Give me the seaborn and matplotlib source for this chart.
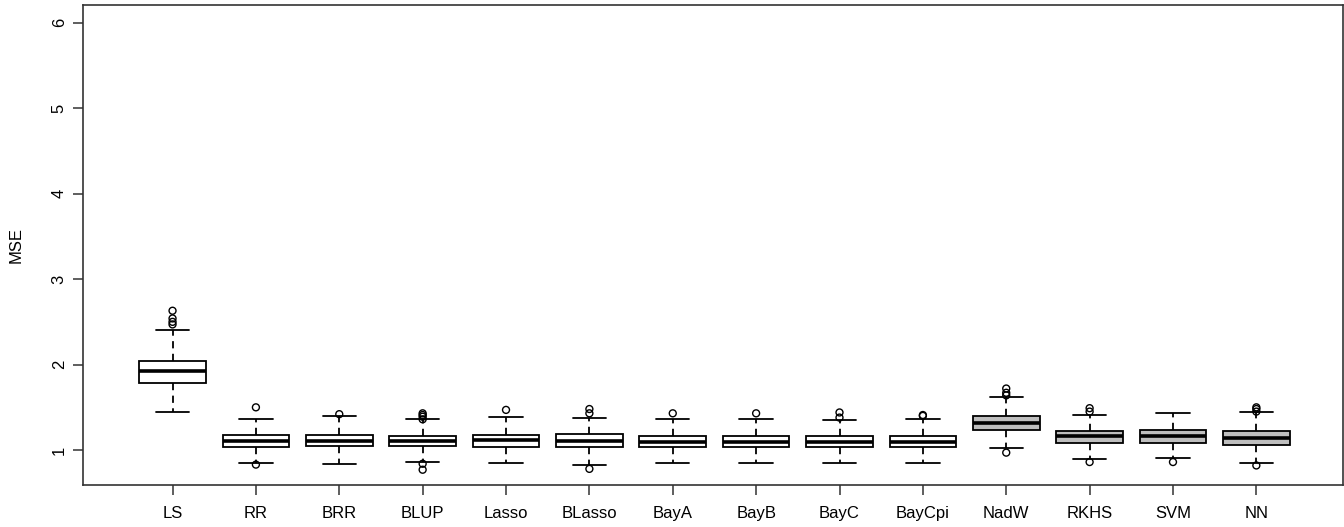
import numpy as np
import pandas as pd
import matplotlib
matplotlib.use("Agg")
import matplotlib.pyplot as plt
import seaborn as sns

# values
methods = ['LS', 'RR', 'BRR', 'BLUP', 'Lasso', 'BLasso', 'BayA', 'BayB',
           'BayC', 'BayCpi', 'NadW', 'RKHS', 'SVM', 'NN']
whisker_lo = [1.45, 0.85, 0.84, 0.86, 0.85, 0.83, 0.85, 0.85, 0.85, 0.85, 1.03, 0.90, 0.91, 0.85]
q1 = [1.78, 1.04, 1.05, 1.05, 1.04, 1.04, 1.04, 1.04, 1.04, 1.04, 1.24, 1.08, 1.08, 1.06]
median = [1.92, 1.11, 1.11, 1.11, 1.12, 1.11, 1.10, 1.10, 1.10, 1.10, 1.32, 1.16, 1.16, 1.14]
q3 = [2.04, 1.18, 1.18, 1.17, 1.18, 1.19, 1.17, 1.17, 1.17, 1.17, 1.40, 1.22, 1.23, 1.22]
whisker_hi = [2.40, 1.36, 1.40, 1.36, 1.39, 1.38, 1.36, 1.36, 1.35, 1.36, 1.62, 1.41, 1.43, 1.44]
outliers = [
    [2.47, 2.50, 2.54, 2.63],
    [1.50, 0.83],
    [1.42],
    [1.36, 1.39, 1.41, 1.43, 0.84, 0.77],
    [1.47],
    [1.43, 1.48, 0.78],
    [1.43],
    [1.43],
    [1.38, 1.44],
    [1.40, 1.41],
    [1.64, 1.67, 1.72, 0.97],
    [1.45, 1.49, 0.86],
    [0.86],
    [1.45, 1.48, 1.50, 0.82],
]
gray_methods = ['NadW', 'RKHS', 'SVM', 'NN']

# long tables for seaborn
box_rows = []
for i, m in enumerate(methods):
    for v in (whisker_lo[i], q1[i], median[i], q3[i], whisker_hi[i]):
        box_rows.append({'method': m, 'mse': v})
box_df = pd.DataFrame(box_rows)
out_df = pd.DataFrame([{'method': m, 'mse': v}
                       for m, vals in zip(methods, outliers) for v in vals])

sns.set_theme(style='ticks')
plt.rcParams['font.family'] = ['Liberation Sans', 'DejaVu Sans']

fig = plt.figure(figsize=(13.44, 5.27), dpi=100)
ax = fig.add_axes([0.062, 0.079, 0.9373, 0.912])

pal = {m: ('#bebebe' if m in gray_methods else 'white') for m in methods}
sns.boxplot(data=box_df, x='method', y='mse', hue='method', order=methods,
            palette=pal, legend=False, saturation=1, width=0.8,
            whis=(0, 100), showfliers=False, linecolor='black', linewidth=1.3,
            whiskerprops={'linestyle': (0, (4, 3))},
            capprops={'linestyle': '-'},
            medianprops={'linewidth': 2.6, 'color': 'black'}, ax=ax)
sns.stripplot(data=out_df, x='method', y='mse', order=methods, jitter=False,
              size=5, ax=ax)
for c in ax.collections:
    c.set_facecolor('none')
    c.set_edgecolor('black')
    c.set_linewidth(1.0)

ax.set_xlim(-1.07, 14.04)
ax.set_ylim(0.587, 6.21)
ax.set_yticks([1, 2, 3, 4, 5, 6])
ax.set_xlabel('')
ax.set_ylabel('MSE', fontsize=12, labelpad=20, color='black')

for s in ax.spines.values():
    s.set_visible(True)
    s.set_color('#333333')
    s.set_linewidth(1.2)
ax.tick_params(axis='both', length=7, width=1.1, color='#333333',
               labelsize=12, labelcolor='black')
ax.tick_params(axis='x', pad=8)
ax.tick_params(axis='y', pad=5, labelrotation=90)
for lab in ax.get_yticklabels():
    lab.set_va('center')

fig.savefig('out.png', dpi=100)
